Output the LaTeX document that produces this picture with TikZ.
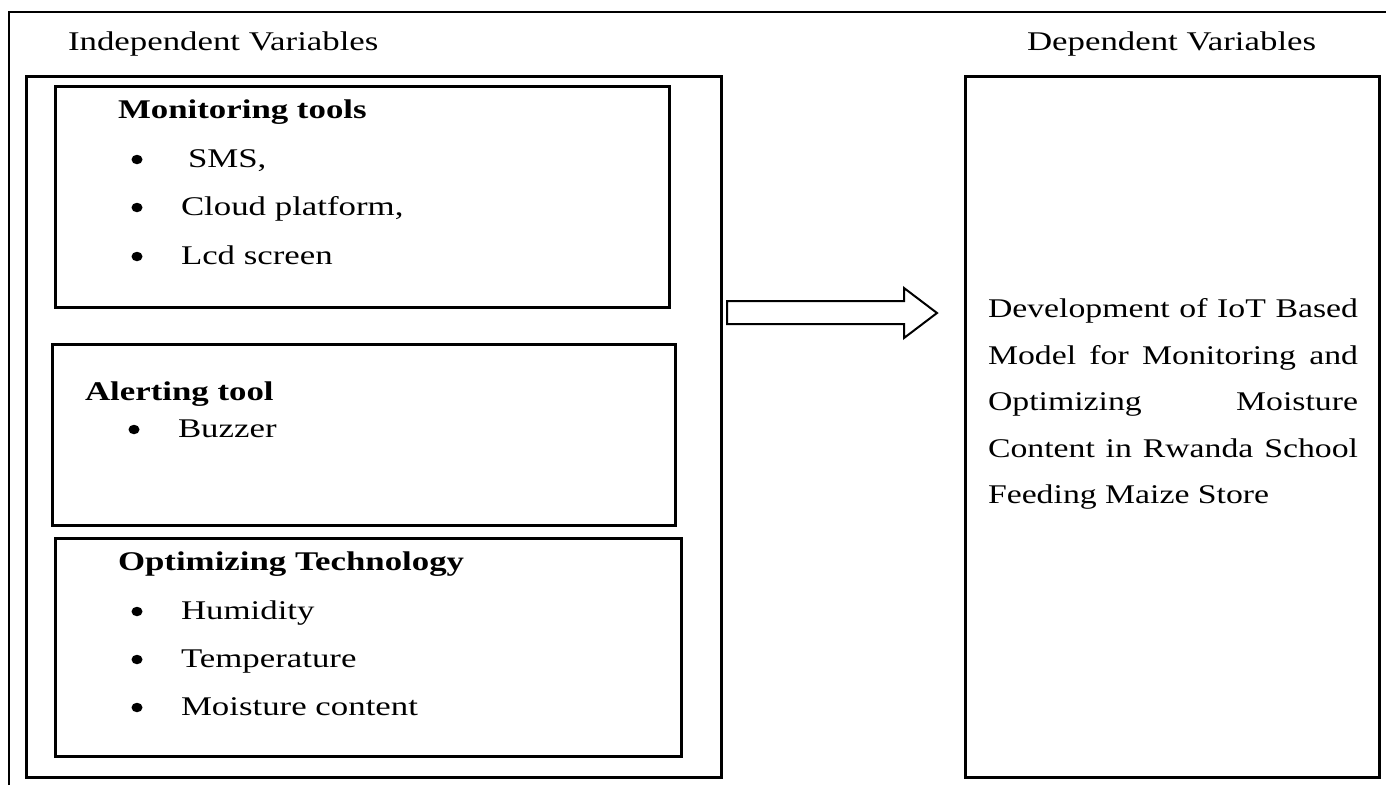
\documentclass[tikz,border=0pt]{standalone}
\usepackage{fontspec}
\usetikzlibrary{shapes.geometric}
\setmainfont{Liberation Serif}[FakeStretch=1.29]
\newfontfamily\rightfont{Liberation Serif}[FakeStretch=1.25]
\begin{document}
\begin{tikzpicture}[x=1pt,y=-1pt,
  box/.style={draw, line width=3pt, inner sep=0pt, outer sep=0pt, anchor=north west},
  txt/.style={anchor=base west, inner sep=0pt, outer sep=0pt, font=\fontsize{27}{27}\selectfont},
  hd/.style={anchor=base west, inner sep=0pt, outer sep=0pt, font=\fontsize{27}{27}\selectfont\bfseries},
  bul/.style={ellipse, fill=black, draw=none, inner sep=0pt, minimum width=11pt, minimum height=9.5pt},
  rline/.style={anchor=base west, inner sep=0pt, outer sep=0pt, font=\rightfont\fontsize{27}{27}\selectfont}]
\useasboundingbox (0,0) rectangle (1386,785);
% outer frame (cut off at right and bottom)
\coordinate (fa) at (9,785);
\coordinate (fb) at (9,12);
\coordinate (fc) at (1386,12);
\draw[line width=1.5pt] (fa) -- (fb) -- (fc);
% headers
\node[txt] (indep) at (68,50) {Independent Variables};
\node[txt] (dep) at (1027,50) {Dependent Variables};
% left big box
\node[box, minimum width=695pt, minimum height=701pt] (left) at (26,76) {};
% monitoring box
\node[box, minimum width=614pt, minimum height=221pt] (mon) at (55,86) {};
\node[hd] (monh) at (118,118) {Monitoring tools};
\node[bul] (b1) at (137,159.5) {};
\node[txt] (t1) at (188,167) {SMS,};
\node[bul] (b2) at (137,207.5) {};
\node[txt] (t2) at (181,215) {Cloud platform,};
\node[bul] (b3) at (137,256.5) {};
\node[txt] (t3) at (181,264) {Lcd screen};
% alerting box
\node[box, minimum width=623pt, minimum height=181pt] (alert) at (52,344) {};
\node[hd] (alh) at (85,400) {Alerting tool};
\node[bul] (b4) at (134,429.5) {};
\node[txt] (t4) at (178,437) {Buzzer};
% optimizing box
\node[box, minimum width=626pt, minimum height=218pt] (opt) at (55,538) {};
\node[hd] (oph) at (118,570) {Optimizing Technology};
\node[bul] (b5) at (137,611.5) {};
\node[txt] (t5) at (181,619) {Humidity};
\node[bul] (b6) at (137,659.5) {};
\node[txt] (t6) at (181,667) {Temperature};
\node[bul] (b7) at (137,707.5) {};
\node[txt] (t7) at (181,715) {Moisture content};
% right box
\node[box, minimum width=414pt, minimum height=701pt] (right) at (965,76) {};
\node[rline] (r1) at (988,317) {\makebox[370pt][s]{Development of IoT Based}};
\node[rline] (r2) at (988,364) {\makebox[370pt][s]{Model for Monitoring and}};
\node[rline] (r3) at (988,410) {\makebox[370pt][s]{Optimizing Moisture}};
\node[rline] (r4) at (988,457) {\makebox[370pt][s]{Content in Rwanda School}};
\node[rline] (r5) at (988,503) {Feeding Maize Store};
% block arrow
\draw[line width=2pt, line join=miter] (727,301) -- (904,301) -- (904,288) -- (937,313) -- (904,338) -- (904,324) -- (727,324) -- cycle;
\end{tikzpicture}
\end{document}
